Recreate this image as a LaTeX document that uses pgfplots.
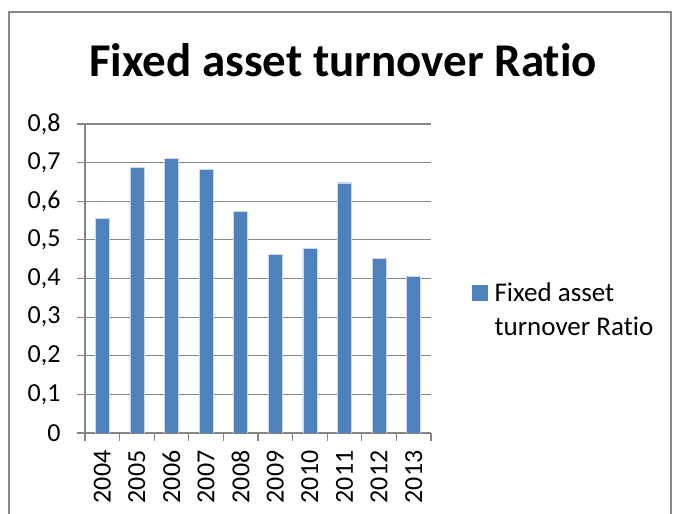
\documentclass[border=0pt]{standalone}
\usepackage{fontspec}
\setmainfont{Carlito}[Ligatures=NoCommon]
\usepackage{pgfplots}
\pgfplotsset{compat=1.18}
\definecolor{barblue}{RGB}{79,129,189}
\definecolor{gridgray}{RGB}{134,134,134}
\begin{document}
\begin{tikzpicture}[x=1pt,y=1pt]
\useasboundingbox (0,0) rectangle (673,514);
\draw[gridgray,line width=1.5pt] (9,-2) -- (9,502) -- (671,502) -- (671,-2);
\node[font=\fontsize{47}{56}\selectfont\bfseries,anchor=base] at (343,437) {Fixed asset turnover Ratio};
\begin{axis}[
    at={(85pt,81pt)}, anchor=south west,
    width=346pt, height=309pt, scale only axis,
    ybar, bar width=14pt,
    ymin=0, ymax=0.8,
    xmin=-0.5, xmax=9.5,
    ytick={0,0.1,...,0.8},
    xtick={0,...,9},
    xticklabels={2004,2005,2006,2007,2008,2009,2010,2011,2012,2013},
    minor xtick={-0.5,0.5,...,9.5},
    major x tick style={draw=none},
    minor x tick style={gridgray, line width=1.2pt},
    y tick style={gridgray, line width=1.2pt},
    tick align=outside,
    major tick length=8pt, minor tick length=8pt,
    axis x line*=bottom, axis y line*=left,
    axis line style={gridgray, line width=1.2pt, -},
    ymajorgrids, grid style={gridgray, line width=1.2pt},
    ticklabel style={font=\fontsize{26}{31}\selectfont},
    xticklabel style={rotate=90, anchor=east},
    xticklabel shift=6pt,
    yticklabel style={xshift=-13pt},
    /pgf/number format/assume math mode=true,
    /pgf/number format/use comma,
    yticklabel={\pgfmathprintnumber[fixed,precision=1]{\tick}},
    legend style={at={(1,0.4)}, anchor=west, xshift=38pt, draw=none,
        font=\fontsize{27}{34}\selectfont, cells={align=left},
        /tikz/every odd column/.append style={column sep=5pt}},
    legend image code/.code={\fill[barblue] (0pt,9pt) rectangle (15pt,24pt);},
]
\addplot[fill=barblue, draw=white!70!barblue, bar shift=0pt] coordinates {
    (0,0.556) (1,0.687) (2,0.711) (3,0.683) (4,0.573)
    (5,0.463) (6,0.478) (7,0.648) (8,0.452) (9,0.405)
};
\addlegendentry{Fixed asset\\turnover Ratio}
\end{axis}
\end{tikzpicture}
\end{document}
